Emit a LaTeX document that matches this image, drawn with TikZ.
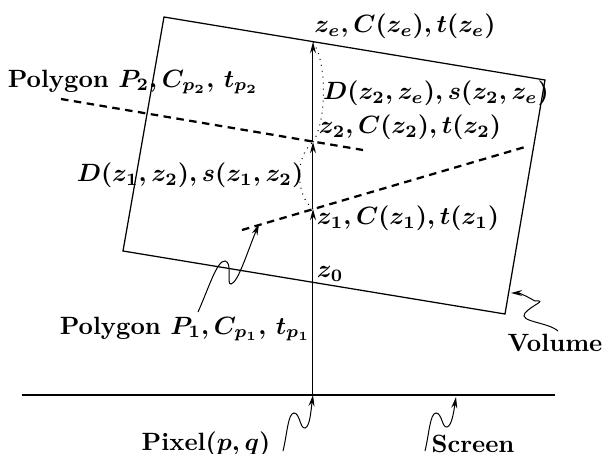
\documentclass[tikz,border=0pt]{standalone}
\usetikzlibrary{arrows.meta}
\begin{document}
\begin{tikzpicture}[x=0.4pt,y=-0.4pt,>={Stealth[length=4.5pt,width=2.4pt]},
    every node/.style={font=\bfseries\boldmath,inner sep=1pt},
    polyline/.style={line width=0.9pt,dash pattern=on 3pt off 2.2pt},
    wavy/.style={->,line width=0.4pt}]
\useasboundingbox (0,0) rectangle (602,454);
% volume and screen
\draw[line width=0.5pt] (164,17) -- (545,80) -- (505,314) -- (123,251) -- cycle;
\draw[line width=0.5pt] (22,395) -- (555,395);
% polygons
\draw[polyline] (61,99) -- (363,150);
\draw[polyline] (242,230) -- (525,147);
% ray points
\coordinate (pix) at (313,395);
\coordinate (z1) at (313,209);
\coordinate (z2) at (313,142);
\coordinate (ze) at (313,42);
\draw[->,line width=0.4pt] (pix) -- (z1);
\draw[->,line width=0.4pt] (z1) -- (z2);
\draw[->,line width=0.4pt] (z2) -- (ze);
\draw[dotted,line width=0.4pt] (z1) .. controls (295,195) and (295,156) .. (z2);
\draw[dotted,line width=0.4pt] (z2) .. controls (327,120) and (327,62) .. (ze);
% labels
\node (lze) at (405,26) {$z_e, C(z_e), t(z_e)$};
\node (lD2e) at (436,93) {$D(z_2,z_e), s(z_2,z_e)$};
\node (lz2) at (410,127) {$z_2, C(z_2), t(z_2)$};
\node (lD12) at (190,175) {$D(z_1,z_2), s(z_1,z_2)$};
\node (lz1) at (408,218) {$z_1, C(z_1), t(z_1)$};
\node[anchor=west] (lz0) at (314,274) {$z_0$};
\node (lP2) at (133,82) {Polygon $P_2, C_{p_2},\, t_{p_2}$};
\node (lP1) at (185,329) {Polygon $P_1, C_{p_1},\, t_{p_1}$};
\node (lvol) at (555,343) {Volume};
\node (lpix) at (206,444) {Pixel$(p,q)$};
\node (lscr) at (473,444) {Screen};
% wavy pointers
\coordinate (tp1) at (259,224);
\coordinate (tvol) at (511,293);
\coordinate (tscr) at (456,397);
\draw[wavy] (198,312) .. controls (208,290) and (217,260) .. (225,261)
    .. controls (233,262) and (226,285) .. (231,284)
    .. controls (238,283) and (248,250) .. (tp1);
\draw[wavy] (558,331) .. controls (548,322) and (518,322) .. (525,313)
    .. controls (532,305) and (548,300) .. (535,301)
    .. controls (528,297) and (520,293) .. (tvol);
\draw[wavy] (283,451) .. controls (287,435) and (288,413) .. (294,413)
    .. controls (300,413) and (300,429) .. (305,428)
    .. controls (310,427) and (311,410) .. (pix);
\draw[wavy] (425,451) .. controls (429,435) and (430,413) .. (436,413)
    .. controls (442,413) and (442,428) .. (447,427)
    .. controls (452,426) and (454,410) .. (tscr);
\end{tikzpicture}
\end{document}
